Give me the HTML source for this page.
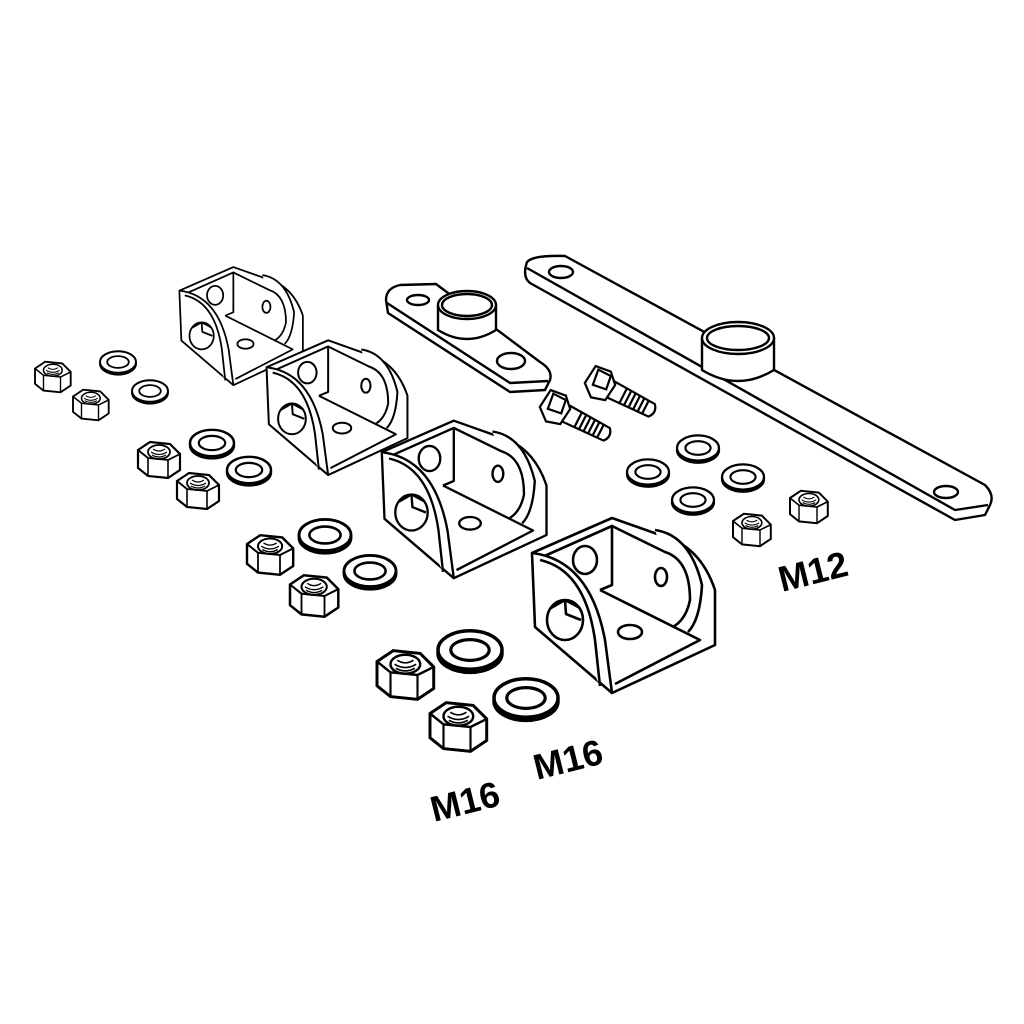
<!DOCTYPE html>
<html><head><style>
html,body{margin:0;padding:0;background:#fff;width:1024px;height:1024px;overflow:hidden}
svg{display:block}
text{font-family:"Liberation Sans",sans-serif;font-weight:bold;font-size:36px;fill:#000}
</style></head><body>
<svg width="1024" height="1024" viewBox="0 0 1024 1024" xmlns="http://www.w3.org/2000/svg">
<defs>
<g id="nut">
 <polygon points="-20,-10 -8,-18 12,-16 22,-6 22,10 10,18 -10,16 -20,8" fill="#fff" stroke="#000" stroke-width="2.2"/>
 <polyline points="-20,-10 -10,-2 10,0 22,-6" fill="none" stroke="#000" stroke-width="1.8"/>
 <line x1="-10" y1="-2" x2="-10" y2="16" stroke="#000" stroke-width="1.6"/>
 <line x1="10" y1="0" x2="10" y2="18" stroke="#000" stroke-width="1.6"/>
 <ellipse cx="1" cy="-8" rx="11" ry="7" fill="#fff" stroke="#000" stroke-width="1.8"/>
 <path d="M-7,-8 q8,5 16,0 M-6,-5 q7,4 14,0 M-5,-11 q6,4 12,0" fill="none" stroke="#000" stroke-width="1.2"/>
</g>
<g id="washer">
 <ellipse cx="0" cy="2" rx="20" ry="12" fill="#fff" stroke="#000" stroke-width="2.2"/>
 <ellipse cx="0" cy="0" rx="20" ry="12" fill="#fff" stroke="#000" stroke-width="2.2"/>
 <ellipse cx="0" cy="0" rx="12" ry="6.5" fill="#fff" stroke="#000" stroke-width="2"/>
</g>
<g id="bracket" fill="#fff" stroke="#000" stroke-width="2.6" stroke-linejoin="round">
 <path d="M532,553 L612,518 L660,535 Q700,545 715,590 L715,645 L612,693 L535,627 Z"/>
 <path d="M655,530 Q690,535 702,585 Q700,620 688,632"/>
 <path d="M540,558 L612,526 L612,585 L600,590"/>
 <path d="M612,526 L665,552 Q690,560 690,600 Q685,625 665,630"/>
 <path d="M600,590 L700,640 L615,684"/>
 <path d="M532,553 Q590,560 605,640 L612,693"/>
 <path d="M540,560 Q585,570 595,640 L600,686"/>
 <ellipse cx="585" cy="560" rx="12" ry="14"/>
 <ellipse cx="661" cy="577" rx="6" ry="9"/>
 <ellipse cx="630" cy="632" rx="12" ry="7"/>
 <ellipse cx="565" cy="620" rx="18" ry="20"/>
 <path d="M551,608 L565,600 L580,608 M565,600 L566,614 L581,620"/>
</g>
<g id="bolt" fill="#fff" stroke="#000" stroke-width="2.2">
 <path d="M8,-9 L58,-7 Q64,0 58,7 L8,9 Z"/>
 <path d="M26,-8 l0,16 M31,-8 l0,16 M36,-8 l0,16 M41,-8 l0,16 M46,-8 l0,16 M51,-8 l0,16"/>
 <polygon points="-12,-14 4,-16 14,-6 12,12 -2,16 -14,6"/>
 <polygon points="-8,-12 6,-12 8,2 -6,4"/>
</g>
</defs>

<use href="#bracket" transform="translate(178,265) scale(0.675) translate(-530,-515)"/>
<use href="#bracket" transform="translate(265,338) scale(0.77) translate(-530,-515)"/>
<use href="#bracket" transform="translate(380,418) scale(0.9) translate(-530,-515)"/>
<use href="#bracket"/>

<g fill="#fff" stroke="#000" stroke-width="2.4" stroke-linejoin="round">
 <path d="M386,300 Q386,288 400,285 L436,284 L540,362 Q553,370 550,380 L545,390 L510,392 L388,313 Z"/>
 <path d="M387,303 L510,383 L548,381"/>
 <ellipse cx="418" cy="300" rx="11" ry="5"/>
 <ellipse cx="511" cy="361" rx="14" ry="8"/>
 <path d="M438,305 L438,330 Q467,348 496,330 L496,305"/>
 <ellipse cx="467" cy="305" rx="29" ry="14"/>
 <ellipse cx="467" cy="305" rx="25" ry="11"/>
</g>
<g fill="#fff" stroke="#000" stroke-width="2.4" stroke-linejoin="round">
 <path d="M527,262 Q533,255 565,256 L985,485 Q995,495 990,505 L985,515 L955,520 L530,283 Q522,277 527,262 Z"/>
 <path d="M527,268 L955,510 L988,505"/>
 <ellipse cx="561" cy="272" rx="12" ry="6"/>
 <ellipse cx="946" cy="492" rx="12" ry="6"/>
 <path d="M702,338 L702,370 Q738,392 774,370 L774,338"/>
 <ellipse cx="738" cy="338" rx="36" ry="16"/>
 <ellipse cx="738" cy="338" rx="31" ry="12"/>
</g>
<use href="#bolt" transform="translate(600,384) rotate(27)"/>
<use href="#bolt" transform="translate(555,408) rotate(27)"/>

<use href="#nut" transform="translate(52,377) scale(0.85)"/>
<use href="#nut" transform="translate(90,405) scale(0.85)"/>
<use href="#washer" transform="translate(118,362) scale(0.9)"/>
<use href="#washer" transform="translate(150,391) scale(0.9)"/>
<use href="#nut" transform="translate(158,460) scale(1.0)"/>
<use href="#nut" transform="translate(197,491) scale(1.0)"/>
<use href="#washer" transform="translate(212,443) scale(1.1)"/>
<use href="#washer" transform="translate(249,470) scale(1.1)"/>
<use href="#nut" transform="translate(269,555) scale(1.1)"/>
<use href="#nut" transform="translate(313,596) scale(1.15)"/>
<use href="#washer" transform="translate(325,535) scale(1.3)"/>
<use href="#washer" transform="translate(370,571) scale(1.3)"/>
<use href="#nut" transform="translate(404,675) scale(1.35)"/>
<use href="#nut" transform="translate(457,727) scale(1.35)"/>
<use href="#washer" transform="translate(470,650) scale(1.6)"/>
<use href="#washer" transform="translate(526,698) scale(1.6)"/>
<use href="#washer" transform="translate(698,448) scale(1.05)"/>
<use href="#washer" transform="translate(648,472) scale(1.05)"/>
<use href="#washer" transform="translate(743,477) scale(1.05)"/>
<use href="#washer" transform="translate(693,500) scale(1.05)"/>
<use href="#nut" transform="translate(808,507) scale(0.9)"/>
<use href="#nut" transform="translate(751,530) scale(0.9)"/>

<text x="782" y="592" transform="rotate(-14 782 592)">M12</text>
<text x="434" y="822" transform="rotate(-14 434 822)">M16</text>
<text x="537" y="780" transform="rotate(-14 537 780)">M16</text>
</svg>
</body></html>
